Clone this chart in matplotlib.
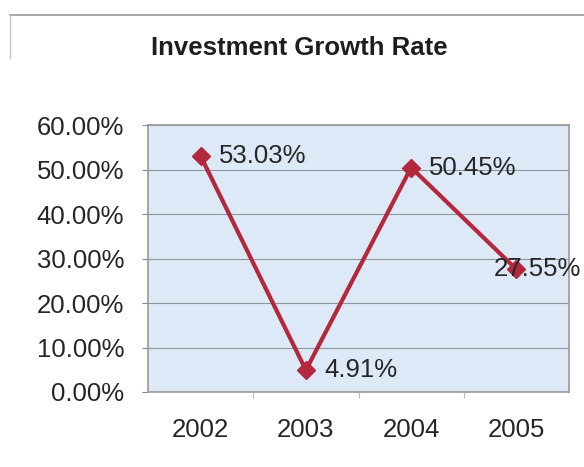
import matplotlib.pyplot as plt
from matplotlib.lines import Line2D
from matplotlib.ticker import FuncFormatter, FixedLocator

plt.rcParams['font.family'] = ['Liberation Sans', 'DejaVu Sans']

# Growth rate per year, in percent
years = ['2002', '2003', '2004', '2005']
growth = [53.03, 4.91, 50.45, 27.55]
y_ticks = [0, 10, 20, 30, 40, 50, 60]

line_color = '#b3283c'

fig = plt.figure(figsize=(5.84, 4.67), dpi=100)
ax = fig.add_axes([0.2534, 0.1606, 0.721, 0.5717])
ax.set_facecolor('#dde9f7')

x = list(range(len(years)))
ax.plot(x, growth, color=line_color, linewidth=3, marker='D',
        markersize=9, markerfacecolor=line_color, markeredgecolor=line_color,
        zorder=3)

# Value labels to the right of each point; the last one is pulled left
offsets = [(13, 0), (13, 0), (13, 0), (-16, 0)]
for xi, val, off in zip(x, growth, offsets):
    ax.annotate(f'{val:.2f}%', (xi, val), xytext=off, textcoords='offset points',
                ha='left', va='center', fontsize=18.5, color='#262626',
                zorder=4, annotation_clip=False)

ax.set_xlim(-0.5, len(years) - 0.5)
ax.set_ylim(0, 60)
ax.set_xticks(x)
ax.set_xticklabels(years)
ax.set_yticks(y_ticks)
ax.yaxis.set_major_formatter(FuncFormatter(lambda v, p: f'{v:.2f}%'))
ax.xaxis.set_minor_locator(FixedLocator([0.5, 1.5, 2.5]))

ax.tick_params(axis='y', labelsize=18.5, length=4, width=0.8, color='#888888',
               pad=13, labelcolor='#262626')
ax.tick_params(axis='x', which='major', labelsize=18.5, length=0, pad=19,
               labelcolor='#262626')
ax.tick_params(axis='x', which='minor', length=4, width=0.8, color='#bbbbbb')

ax.grid(axis='y', color='#8f969c', linewidth=0.8)
ax.set_axisbelow(True)
for side in ax.spines.values():
    side.set_color('#9a9a9a')
    side.set_linewidth(1.2)

fig.text(0.513, 0.897, 'Investment Growth Rate', ha='center', va='center',
         fontsize=18.5, fontweight='bold', color='#1e1e1e')

# Frame edges around the title box
fig.add_artist(Line2D([0.017, 1.0], [0.968, 0.968], color='#9a9a9a', linewidth=1.2))
fig.add_artist(Line2D([0.017, 0.017], [0.968, 0.875], color='#c4c4c4', linewidth=1.0))

fig.savefig('out.png', dpi=100)
